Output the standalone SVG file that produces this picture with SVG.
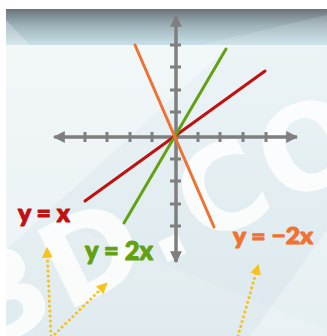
<svg xmlns="http://www.w3.org/2000/svg" width="327" height="336" viewBox="0 0 327 336">
<defs>
<linearGradient id="band" x1="0" y1="0" x2="0" y2="1">
<stop offset="0" stop-color="#6a747a"/>
<stop offset="0.45" stop-color="#9db1b8"/>
<stop offset="1" stop-color="#c8e0e7"/>
</linearGradient>
<linearGradient id="bg" x1="0" y1="0" x2="0" y2="1">
<stop offset="0" stop-color="#eef5f7"/>
<stop offset="1" stop-color="#dbe8ed"/>
</linearGradient>
<clipPath id="panel"><rect x="6" y="9" width="321" height="327"/></clipPath>
<marker id="ga" viewBox="0 0 10 10" refX="9" refY="5" markerWidth="4" markerHeight="4" orient="auto" markerUnits="strokeWidth">
<path d="M0,0 L10,5 L0,10 z" fill="#7f7f7f"/>
</marker>
<marker id="ya" viewBox="0 0 10 10" refX="8" refY="5" markerWidth="3.4" markerHeight="3.4" orient="auto" markerUnits="strokeWidth">
<path d="M0,0 L10,5 L0,10 z" fill="#f7c21a"/>
</marker>
<style>
.ax{stroke:#7f7f7f;stroke-width:3;fill:none}
.tk{stroke:#7f7f7f;stroke-width:3}
.ln{stroke-width:3;stroke-linecap:round;fill:none}
.lbl{font-family:Lato,"DejaVu Sans",sans-serif;font-weight:900;stroke-width:1.1;stroke-linejoin:round}
.dot{stroke:#f7c21a;stroke-width:3.2;stroke-dasharray:0 5;stroke-linecap:round;fill:none}
.wm{font-family:"DejaVu Sans","Liberation Sans",sans-serif;font-weight:bold;fill:#ffffff}
</style>
</defs>
<rect width="327" height="336" fill="#ffffff"/>
<g id="background" clip-path="url(#panel)">
<rect x="6" y="9" width="321" height="327" fill="url(#bg)"/>
<polygon points="6,45 6,250 230,45" fill="#ffffff" opacity="0.35"/>
<polygon points="6,200 327,330 327,336 6,336" fill="#ffffff" opacity="0.15"/>
<polygon points="250,336 327,230 327,336" fill="#ffffff" opacity="0.3"/>
<rect x="6" y="9" width="321" height="36" fill="url(#band)"/>
<polygon points="6,20 30,45 6,45" fill="#ffffff" opacity="0.25"/>
<polygon points="200,45 327,15 327,45" fill="#ffffff" opacity="0.15"/>
<text class="wm" x="0" y="0" font-size="118" letter-spacing="4" transform="translate(-12,350) rotate(-26)" opacity="0.85">3D.CO</text>
</g>
<g id="axes">
<line class="ax" x1="176" y1="262" x2="176" y2="16" marker-end="url(#ga)"/>
<line class="ax" x1="176" y1="16" x2="176" y2="262" marker-end="url(#ga)"/>
<line class="ax" x1="60" y1="137" x2="297" y2="137" marker-end="url(#ga)"/>
<line class="ax" x1="297" y1="137" x2="54" y2="137" marker-end="url(#ga)"/>
<g class="tk">
<line x1="85" y1="132" x2="85" y2="142"/>
<line x1="107" y1="132" x2="107" y2="142"/>
<line x1="130" y1="132" x2="130" y2="142"/>
<line x1="152" y1="132" x2="152" y2="142"/>
<line x1="198" y1="132" x2="198" y2="142"/>
<line x1="220" y1="132" x2="220" y2="142"/>
<line x1="243" y1="132" x2="243" y2="142"/>
<line x1="266" y1="132" x2="266" y2="142"/>
<line x1="170" y1="45" x2="181" y2="45"/>
<line x1="170" y1="67" x2="181" y2="67"/>
<line x1="170" y1="90" x2="181" y2="90"/>
<line x1="170" y1="112" x2="181" y2="112"/>
<line x1="170" y1="159" x2="181" y2="159"/>
<line x1="170" y1="181" x2="181" y2="181"/>
<line x1="170" y1="204" x2="181" y2="204"/>
<line x1="170" y1="226" x2="181" y2="226"/>
</g>
</g>
<g id="lines">
<line id="line-y-x" class="ln" x1="85" y1="201" x2="265" y2="71" stroke="#c20f0f"/>
<line id="line-y-2x" class="ln" x1="124" y1="223" x2="226" y2="49" stroke="#62a112"/>
<line id="line-y-neg2x" class="ln" x1="135" y1="45" x2="214" y2="227" stroke="#f07232"/>
</g>
<g id="labels">
<text class="lbl" x="18" y="222" font-size="25" fill="#c20f0f" stroke="#c20f0f" textLength="52" lengthAdjust="spacingAndGlyphs">y = x</text>
<text class="lbl" x="85" y="260" font-size="26" fill="#62a112" stroke="#62a112" textLength="68" lengthAdjust="spacingAndGlyphs">y = 2x</text>
<text class="lbl" x="233" y="244" font-size="23" fill="#f07232" stroke="#f07232" textLength="80" lengthAdjust="spacingAndGlyphs">y = −2x</text>
</g>
<g id="connectors">
<line class="dot" x1="51" y1="336" x2="47" y2="249" marker-end="url(#ya)"/>
<line class="dot" x1="55" y1="334" x2="106" y2="284" marker-end="url(#ya)"/>
<line class="dot" x1="238" y1="336" x2="258" y2="266" marker-end="url(#ya)"/>
</g>
</svg>
